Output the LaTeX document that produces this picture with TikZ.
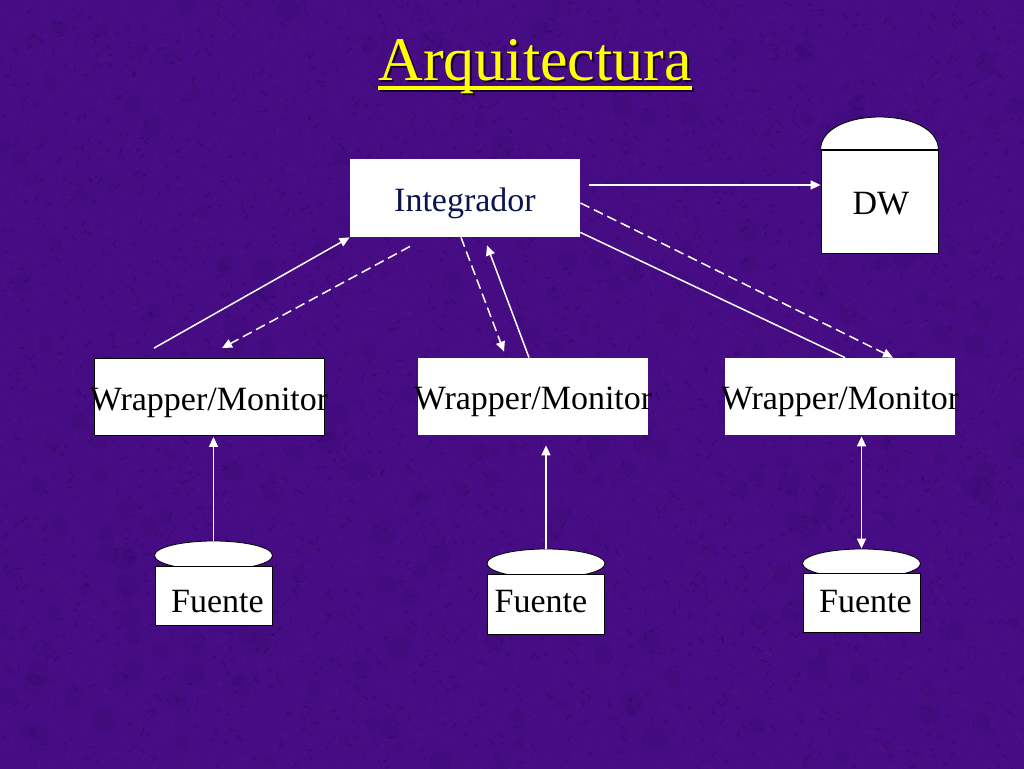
\documentclass[tikz,border=0pt]{standalone}
\usepackage{fontspec}
\setmainfont{Liberation Serif}
\usepackage{tikz}
\usetikzlibrary{arrows.meta,calc,shapes.geometric}
\definecolor{Fondo}{RGB}{70,12,132}
\definecolor{FondoD}{RGB}{40,6,88}
\definecolor{FondoL}{RGB}{84,18,156}
\definecolor{FondoR}{RGB}{100,16,118}
\definecolor{Titulo}{RGB}{255,255,0}
\definecolor{Sombra}{RGB}{20,4,40}
\definecolor{Azul}{RGB}{10,20,80}
\newcommand{\drawarrow}{\draw[white,line width=1.5pt,-{Triangle[length=10pt,width=9pt]}]}
\newcommand{\drawdashed}{\draw[white,line width=1.5pt,dash pattern=on 10pt off 5pt,-{Triangle[length=10pt,width=9pt]}]}
\newcommand{\drawtexture}{
    \pgfmathsetseed{7}
    \foreach \i in {1,...,300}{
      \fill[FondoD,opacity=.12] (1024*rnd,768*rnd) circle (4+8*rnd);
    }
    \foreach \c in {FondoD,FondoL,FondoR}{
      \foreach \i in {1,...,2600}{
        \draw[\c,opacity=.4,line width=1.3pt] (1024*rnd,768*rnd) --++(12*rnd-6,12*rnd-6);
      }
    }
}
\tikzset{
  box/.style={draw=black,fill=white,line width=.8pt,inner sep=0pt,font=\fontsize{34}{40}\selectfont},
  wrapper/.style={box,minimum width=230,minimum height=77,text height=26.6pt,text depth=0pt},
  fuente/.style={box,minimum width=117,minimum height=59,text depth=0pt},
  dome/.style={ellipse,draw=black,fill=white,line width=.8pt,minimum width=118,minimum height=29,inner sep=0pt}
}
\begin{document}
\begin{tikzpicture}[x=1pt,y=-1pt]
\useasboundingbox (0,0) rectangle (1024,768);
\begin{scope}
\clip (-2,-2) rectangle (1026,770);
\fill[Fondo] (-2,-2) rectangle (1026,770);
\drawtexture
\end{scope}
% titulo
\draw[Sombra,line width=3.5pt] (380,90) -- (694,90);
\node[anchor=base,Sombra] (sombra) at (537,82.5) {\fontsize{62}{70}\selectfont Arquitectura};
\node[anchor=base,Titulo,inner sep=0pt] (titulo) at (535,80.5) {\fontsize{62}{70}\selectfont Arquitectura};
\draw[Titulo,line width=3.5pt] (titulo.west |- 0,88) -- (titulo.east |- 0,88);
% cajas
\node[wrapper] (wrapA) at (209,397) {\makebox[0pt]{Wrapper/Monitor}};
\node[wrapper,draw=none] (wrapB) at (533,396.5) {\makebox[0pt]{Wrapper/Monitor}};
\node[wrapper,draw=none] (wrapC) at (840,396.5) {\makebox[0pt]{Wrapper/Monitor}};
\node[box,draw=none,minimum width=230,minimum height=78,text=Azul,text height=26pt,text depth=0pt] (integ) at (465,198) {Integrador};
% flechas
\draw[white,line width=1.5pt] ([shift={(5,0)}]wrapC.north) -- ([shift={(0,-5)}]integ.south east);
\drawarrow ([shift={(-55,-10)}]wrapA.north) -- (integ.south west);
\drawdashed ([shift={(-55,9)}]integ.south) -- ([shift={(13,-10)}]wrapA.north);
\drawdashed ([shift={(-4,0)}]integ.south) -- ([shift={(-29,-6)}]wrapB.north);
\drawarrow ([shift={(-4,0)}]wrapB.north) -- ([shift={(22,8)}]integ.south);
\drawdashed ([shift={(0,5)}]integ.east) -- ([shift={(53,0)}]wrapC.north);
% fuentes
\node[dome] (domoA) at (213.5,555.5) {};
\node[fuente,text height=33pt] (fuenteA) at (213.5,596) {\hspace*{8pt}Fuente};
\node[dome] (domoB) at (546,563.5) {};
\node[fuente,minimum height=60,text height=16pt] (fuenteB) at (546,604) {\hspace*{-10pt}Fuente};
\node[dome] (domoC) at (861.5,563.5) {};
\node[fuente,text height=18pt] (fuenteC) at (861.5,603) {\hspace*{8pt}Fuente};
\drawarrow (domoA.north) -- ([shift={(0,1)}]domoA.north |- wrapA.south);
\drawarrow (domoB.north) -- ([shift={(0,10)}]domoB.north |- wrapB.south);
\draw[white,line width=1.5pt,{Triangle[length=10pt,width=9pt]}-{Triangle[length=10pt,width=9pt]}] (domoC.north) -- ([shift={(0,1)}]domoC.north |- wrapC.south);
% DW
\node[box,minimum width=117,minimum height=103,text height=25pt,text depth=0pt] (dw) at (879.5,201.5) {\hspace*{3pt}DW};
\fill[white,draw=black,line width=.8pt] (dw.north west) .. controls (821,128) and (850,117) .. (879.5,117)
  .. controls (909,117) and (938,128) .. (dw.north east) -- cycle;
\drawarrow ([shift={(9,-13)}]integ.east) -- ([shift={(0,-16.5)}]dw.west);
\end{tikzpicture}
\end{document}
